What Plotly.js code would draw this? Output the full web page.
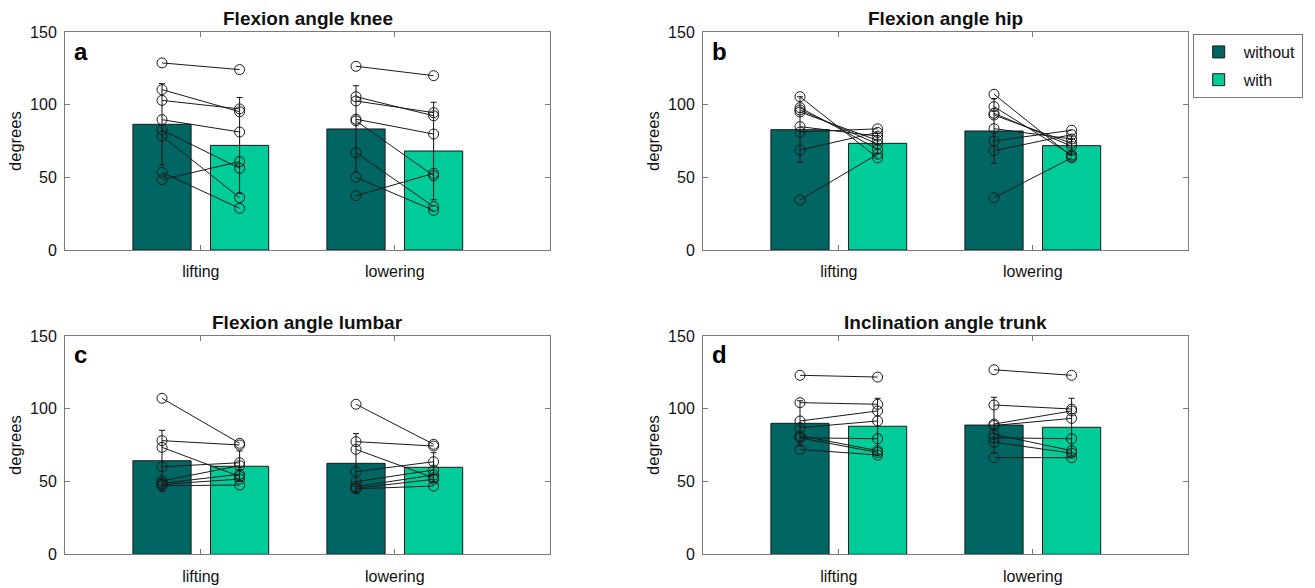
<!DOCTYPE html>
<html><head><meta charset="utf-8">
<script src="https://cdn.plot.ly/plotly-3.0.1.min.js"></script>
<style>html,body{margin:0;padding:0;background:#fff}#chart{width:1315px;height:588px}</style>
</head><body><div id="chart"></div>
<script>
const categories = ['lifting', 'lowering'];
const conditions = ['without', 'with'];
const panelTitles = ['Flexion angle knee', 'Flexion angle hip', 'Flexion angle lumbar', 'Inclination angle trunk'];
const panelLetters = ['a', 'b', 'c', 'd'];
const yTicks = [0, 50, 100, 150];

// group means (bars) and standard deviations (error bars): [lifting, lowering]
const kneeMeanWithout = [86.6, 83.4];
const kneeMeanWith = [72.1, 68.2];
const kneeSdWithout = [28.0, 29.8];
const kneeSdWith = [33.0, 33.6];

const hipMeanWithout = [82.9, 82.0];
const hipMeanWith = [73.5, 71.9];
const hipSdWithout = [22.7, 22.3];
const hipSdWith = [7.0, 6.5];

const lumbarMeanWithout = [64.3, 62.5];
const lumbarMeanWith = [60.5, 59.8];
const lumbarSdWithout = [20.9, 20.4];
const lumbarSdWith = [10.5, 10.0];

const trunkMeanWithout = [90.0, 88.8];
const trunkMeanWith = [88.0, 87.3];
const trunkSdWithout = [15.5, 19.1];
const trunkSdWith = [19.2, 19.9];

// individual subjects (same order in each array)
const kneeLiftWithout = [128.9, 110.5, 103.1, 89.8, 82.7, 78.5, 53.5, 48.5];
const kneeLiftWith = [124.3, 95.3, 97.2, 81.3, 56.3, 36.1, 28.7, 60.9];
const kneeLowerWithout = [126.6, 105.6, 102.7, 90.1, 89.0, 67.1, 50.1, 37.4];
const kneeLowerWith = [120.1, 92.5, 94.6, 79.9, 51.2, 29.9, 27.3, 52.8];

const hipLiftWithout = [105.6, 98.1, 96.5, 95.1, 85.0, 81.3, 68.9, 34.5];
const hipLiftWith = [63.5, 69.5, 73.0, 75.5, 78.5, 83.5, 81.0, 66.0];
const hipLowerWithout = [107.3, 98.8, 94.2, 93.0, 83.6, 75.1, 68.4, 36.0];
const hipLowerWith = [64.5, 65.5, 71.5, 73.5, 76.5, 82.5, 79.5, 63.5];

const lumbarLiftWithout = [107.2, 78.1, 73.5, 60.2, 50.4, 48.8, 48.0, 47.1];
const lumbarLiftWith = [76.3, 75.1, 53.5, 62.9, 60.9, 55.0, 51.7, 47.6];
const lumbarLowerWithout = [103.1, 77.4, 72.1, 56.8, 49.9, 46.5, 45.4, 45.0];
const lumbarLowerWith = [75.6, 74.4, 52.6, 63.6, 57.9, 54.5, 51.5, 46.9];

const trunkLiftWithout = [123.0, 104.2, 91.6, 87.0, 81.5, 80.1, 80.0, 72.1];
const trunkLiftWith = [121.8, 103.1, 98.5, 91.6, 71.2, 79.4, 70.0, 68.2];
const trunkLowerWithout = [126.8, 102.6, 89.5, 88.5, 82.4, 80.1, 77.0, 66.4];
const trunkLowerWith = [123.0, 99.8, 98.5, 93.4, 71.2, 79.4, 69.5, 66.4];

const panels = [
  {mean: [kneeMeanWithout, kneeMeanWith], sd: [kneeSdWithout, kneeSdWith],
   subj: [[kneeLiftWithout, kneeLiftWith], [kneeLowerWithout, kneeLowerWith]]},
  {mean: [hipMeanWithout, hipMeanWith], sd: [hipSdWithout, hipSdWith],
   subj: [[hipLiftWithout, hipLiftWith], [hipLowerWithout, hipLowerWith]]},
  {mean: [lumbarMeanWithout, lumbarMeanWith], sd: [lumbarSdWithout, lumbarSdWith],
   subj: [[lumbarLiftWithout, lumbarLiftWith], [lumbarLowerWithout, lumbarLowerWith]]},
  {mean: [trunkMeanWithout, trunkMeanWith], sd: [trunkSdWithout, trunkSdWith],
   subj: [[trunkLiftWithout, trunkLiftWith], [trunkLowerWithout, trunkLowerWith]]}
];

// style
const FONT = '"Liberation Sans", Arial, Helvetica, sans-serif';
const barColors = ['#006663', '#00cc99'];
const OFFSET = 0.2, BAR_W = 0.3;
const AXIS_GREY = '#7a7a7a';
const W = 1315, H = 588;
const xDomains = [[65 / W, 550 / W], [703 / W, 1188 / W]];
const yDomains = [[1 - 250 / H, 1 - 32.3 / H], [1 - 554.3 / H, 1 - 336 / H]];

const catPos = categories.map((c, i) => i + 1);
const traces = [];
const annotations = [];
const layout = {
  width: W, height: H,
  margin: {l: 0, r: 0, t: 0, b: 0},
  paper_bgcolor: '#fff', plot_bgcolor: '#fff',
  font: {family: FONT, size: 16, color: '#111'},
  barmode: 'overlay',
  showlegend: true,
  legend: {
    x: 1192.7 / W, y: 1 - 34 / H, xanchor: 'left', yanchor: 'top',
    bordercolor: AXIS_GREY, borderwidth: 1, bgcolor: '#fff',
    font: {family: FONT, size: 16, color: '#111'},
    itemwidth: 40, tracegroupgap: 4
  },
  annotations: annotations
};

panels.forEach((p, k) => {
  const n = k + 1;
  const xa = 'x' + (n === 1 ? '' : n), ya = 'y' + (n === 1 ? '' : n);
  const col = k % 2, row = Math.floor(k / 2);

  conditions.forEach((cond, ci) => {
    const sign = ci === 0 ? -1 : 1;
    traces.push({
      type: 'bar', xaxis: xa, yaxis: ya,
      name: cond, legendgroup: cond, showlegend: k === 0,
      x: catPos.map(v => v + sign * OFFSET),
      y: p.mean[ci],
      width: BAR_W,
      marker: {color: barColors[ci], line: {color: '#1a1a1a', width: 1}},
      error_y: {type: 'data', array: p.sd[ci], visible: true, color: '#111', thickness: 1, width: 3},
      hoverinfo: 'y'
    });
  });

  const nSubj = p.subj[0][0].length;
  for (let s = 0; s < nSubj; s++) {
    const xs = [], ys = [];
    categories.forEach((c, gi) => {
      if (gi > 0) { xs.push(null); ys.push(null); }
      xs.push(catPos[gi] - OFFSET, catPos[gi] + OFFSET);
      ys.push(p.subj[gi][0][s], p.subj[gi][1][s]);
    });
    traces.push({
      type: 'scatter', mode: 'lines+markers', xaxis: xa, yaxis: ya,
      x: xs, y: ys, connectgaps: false, showlegend: false,
      line: {color: '#1a1a1a', width: 1},
      marker: {symbol: 'circle-open', size: 10, color: '#1a1a1a', line: {width: 1}},
      hoverinfo: 'y'
    });
  }

  layout['xaxis' + (n === 1 ? '' : n)] = {
    domain: xDomains[col], anchor: ya, range: [0.3, 2.8],
    tickvals: catPos, ticktext: categories,
    ticks: 'inside', ticklen: 5, tickcolor: AXIS_GREY,
    showline: true, linecolor: AXIS_GREY, linewidth: 1, mirror: 'ticks',
    showgrid: false, zeroline: false, fixedrange: true,
    ticklabelstandoff: 7,
    tickfont: {family: FONT, size: 16, color: '#111'}
  };
  layout['yaxis' + (n === 1 ? '' : n)] = {
    domain: yDomains[row], anchor: xa, range: [0, 150],
    tickvals: yTicks,
    ticks: 'inside', ticklen: 5, tickcolor: AXIS_GREY,
    showline: true, linecolor: AXIS_GREY, linewidth: 1, mirror: 'ticks',
    showgrid: false, zeroline: false, fixedrange: true,
    ticklabelstandoff: 4,
    tickfont: {family: FONT, size: 16, color: '#111'},
    title: {text: 'degrees', standoff: 4, font: {family: FONT, size: 16.5, color: '#111'}}
  };

  annotations.push({
    text: '<b>' + panelTitles[k] + '</b>', showarrow: false,
    xref: xa + ' domain', yref: ya + ' domain', x: 0.5, y: 1,
    xanchor: 'center', yanchor: 'bottom', yshift: 1,
    font: {family: FONT, size: 19, color: '#111'}
  });
  annotations.push({
    text: '<b>' + panelLetters[k] + '</b>', showarrow: false,
    xref: xa + ' domain', yref: ya + ' domain', x: 0.015, y: 0.985,
    xanchor: 'left', yanchor: 'top',
    font: {family: FONT, size: 24, color: '#000'}
  });
});

Plotly.newPlot('chart', traces, layout, {displayModeBar: false, staticPlot: true});
</script>
</body></html>
